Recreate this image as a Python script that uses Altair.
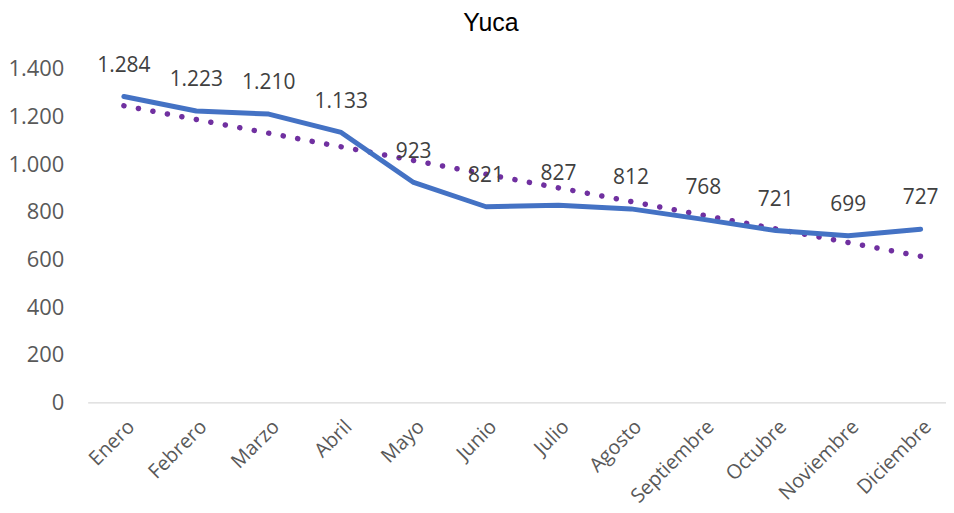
import altair as alt
import pandas as pd

months = ["Enero", "Febrero", "Marzo", "Abril", "Mayo", "Junio", "Julio",
          "Agosto", "Septiembre", "Octubre", "Noviembre", "Diciembre"]
values = [1284, 1223, 1210, 1133, 923, 821, 827, 812, 768, 721, 699, 727]
y_ticks = [0, 200, 400, 600, 800, 1000, 1200, 1400]

df = pd.DataFrame({"idx": list(range(len(months))), "mes": months, "v": values})

label_expr = "[" + ",".join(f"'{m}'" for m in months) + "][datum.value]"

x_enc = alt.X("idx:Q",
              scale=alt.Scale(domain=[-0.5, 11.35], nice=False, zero=False),
              axis=alt.Axis(values=list(range(12)), labelExpr=label_expr, title=None,
                            labelAngle=-45, labelAlign="right", labelBaseline="top",
                            labelPadding=14, labelOverlap=False, ticks=False, grid=False,
                            labelFlush=False,
                            domainColor="#d9d9d9", domainWidth=1.3,
                            labelFont="Open Sans", labelFontSize=20, labelColor="#595959"))
y_enc = alt.Y("v:Q",
              scale=alt.Scale(domain=[0, 1400], nice=False),
              axis=alt.Axis(values=y_ticks, title=None, grid=False, ticks=False, domain=False,
                            labelExpr="replace(format(datum.value, ','), ',', '.')",
                            labelPadding=24, labelFont="Open Sans", labelFontSize=22,
                            labelColor="#595959"))

base = alt.Chart(df)

line = base.mark_line(color="#4472C4", strokeWidth=5, strokeCap="round", strokeJoin="round").encode(
    x=x_enc, y=y_enc)

trend = base.transform_regression("idx", "v", method="linear").mark_line(
    color="#7030A0", strokeWidth=5.5, strokeCap="round", strokeDash=[0.1, 14.7]
).encode(x=x_enc, y=y_enc)

labels = base.transform_calculate(
    lab="replace(format(datum.v, ','), ',', '.')"
).mark_text(baseline="bottom", dy=-21, font="Open Sans", fontSize=21, color="#404040").encode(
    x=x_enc, y=y_enc, text="lab:N")

chart = alt.layer(trend, line, labels).properties(
    width=862, height=335,
    title=alt.TitleParams("Yuca", font="Liberation Sans", fontSize=25, fontWeight="normal",
                          color="#000000", offset=19, dx=-26),
    autosize=alt.AutoSizeParams(type="none"),
    padding={"left": 80, "top": 60, "right": 0, "bottom": 105},
).configure_view(stroke=None)

chart.save("out.html", embed_options={"renderer": "svg", "actions": False})
